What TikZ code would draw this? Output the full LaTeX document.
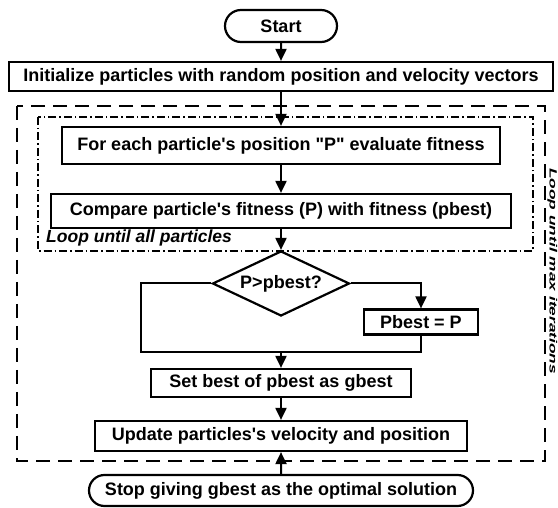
\documentclass[tikz,border=0pt]{standalone}
\usepackage{fontspec}
\setmainfont{Liberation Sans}[Ligatures=TeXOff]
\usetikzlibrary{shapes.geometric,shapes.misc,arrows.meta}
\newcommand\dgfont{\fontsize{18}{21}\selectfont\bfseries}
\begin{document}
\begin{tikzpicture}[x=1pt,y=-1pt,
  proc/.style={draw, line width=2.2pt, rectangle, inner sep=0pt, font=\dgfont},
  term/.style={draw, line width=2.2pt, rounded rectangle, inner sep=0pt, font=\dgfont},
  dec/.style={draw, diamond, aspect=2.1, line width=2.2pt, inner sep=0pt,
    minimum width=137pt, minimum height=65pt, font=\dgfont},
  lab/.style={inner sep=0pt, font=\fontsize{17.5}{20}\selectfont\bfseries\itshape},
  sidelab/.style={inner sep=0pt, font=\fontsize{10.5}{12}\selectfont\bfseries\itshape},
  arr/.style={line width=2pt, -{Triangle[length=12pt,width=11pt]}},
  ln/.style={line width=2pt, line join=miter},
  outerframe/.style={line width=2.6pt, dash pattern=on 14pt off 8pt},
  innerframe/.style={line width=1.3pt, dash pattern=on 8pt off 3pt on 1.5pt off 3pt}]
\useasboundingbox (0,0) rectangle (558,508);
\fill[white] (0,0) rectangle (558,508);
% loop frames
\draw[outerframe] (17,106) rectangle (545,461);
\draw[innerframe] (38,117) rectangle (533,251);
% nodes
\node[term, minimum width=112pt, minimum height=32pt] (start) at (281,26) {Start};
\node[proc, minimum width=544pt, minimum height=29pt] (init) at (281,76.5) {Initialize particles with random position and velocity vectors};
\node[proc, minimum width=438pt, minimum height=37pt] (each) at (281,145.5) {For each particle's position "P" evaluate fitness};
\node[proc, minimum width=460pt, minimum height=34pt] (cmp) at (281,211) {Compare particle's fitness (P) with fitness (pbest)};
\node[lab, anchor=base west] (loopa) at (46,243) {Loop until all particles};
\node[dec] (dec) at (281,283.5) {P>pbest?};
\node[proc, minimum width=114pt, minimum height=25pt] (pb) at (421,322) {Pbest = P};
\node[proc, minimum width=260pt, minimum height=28pt] (setb) at (281,383) {Set best of pbest as gbest};
\node[proc, minimum width=372pt, minimum height=30pt] (upd) at (281,436) {Update particles's velocity and position};
\node[term, minimum width=384pt, minimum height=31pt] (stop) at (281,490.5) {Stop giving gbest as the optimal solution};
\node[sidelab, rotate=-90, anchor=base west] (loopb) at (549.5,168) {\scalebox{1.65}[1]{Loop until max iterations}};
% junction points
\coordinate (jl) at (141,352);
\coordinate (jr) at (421,352);
\coordinate (jm) at (281,352);
% connectors
\draw[arr] (start) -- (init);
\draw[arr] (init) -- (each);
\draw[arr] (each) -- (cmp);
\draw[arr] (cmp) -- (dec);
\draw[arr] (dec.east) -| (pb.north);
\draw[ln] (dec.west) -| (jl) -- (jr) -- (pb.south);
\draw[arr] (jm) -- (setb);
\draw[arr] (setb) -- (upd);
\draw[arr] (stop) -- (upd);
\end{tikzpicture}
\end{document}
